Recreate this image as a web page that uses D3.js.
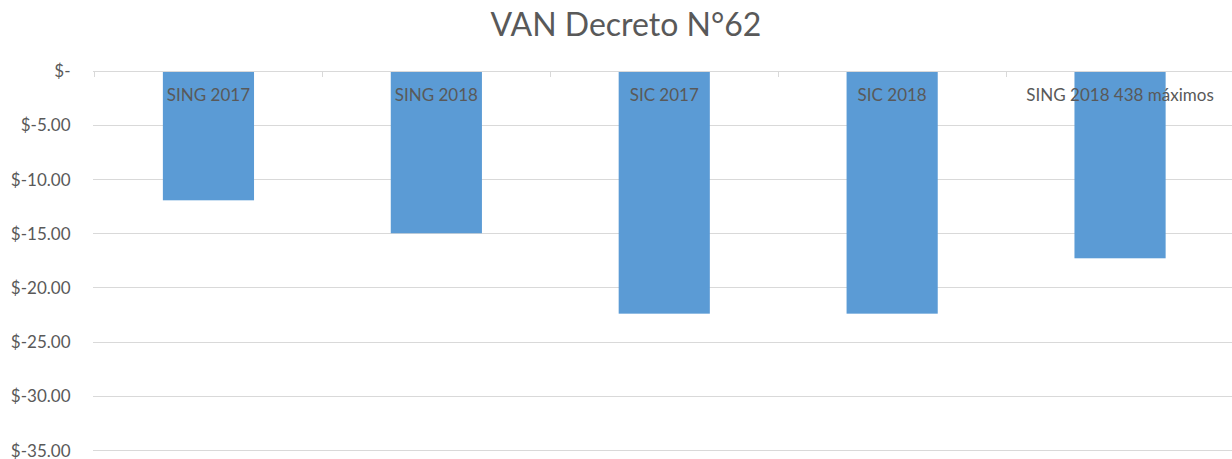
<!DOCTYPE html>
<html>
<head>
<meta charset="utf-8">
<script src="https://cdn.jsdelivr.net/npm/d3@7"></script>
<style>
  body { margin: 0; background: #fff; }
  text { font-family: Lato, "Open Sans", sans-serif; fill: #595959; }
  .grid line { stroke: #d9d9d9; stroke-width: 1; }
</style>
</head>
<body>
<script>
// data
var categories = ["SING 2017", "SING 2018", "SIC 2017", "SIC 2018", "SING 2018 438 máximos"];
var values = [-11.96, -15.0, -22.42, -22.42, -17.31];
var yTicks = [0, -5, -10, -15, -20, -25, -30, -35];
var title = "VAN Decreto N°62";

var width = 1232, height = 459;
var margin = {top: 70.7, right: -2, bottom: 9, left: 94.5};

var svg = d3.select("body").append("svg")
    .attr("width", width)
    .attr("height", height);

var x = d3.scaleBand()
    .domain(categories)
    .range([margin.left, width - margin.right])
    .paddingInner(0.6)
    .paddingOuter(0.3);

var y = d3.scaleLinear()
    .domain([-35, 0])
    .range([height - margin.bottom, margin.top]);

function fmt(v) {
    if (v === 0) return "$-";
    return "$" + d3.format(".2f")(v).replace("−", "-");
}

// horizontal gridlines
svg.append("g")
    .attr("class", "grid")
    .selectAll("line")
    .data(yTicks)
    .enter()
    .append("line")
        .attr("x1", margin.left - 1.5)
        .attr("x2", width)
        .attr("y1", function(d) { return Math.round(y(d)) + 0.5; })
        .attr("y2", function(d) { return Math.round(y(d)) + 0.5; });

// y labels
svg.append("g")
    .selectAll("text")
    .data(yTicks)
    .enter()
    .append("text")
        .attr("x", 70.5)
        .attr("y", function(d) { return y(d) + 6.5; })
        .style("text-anchor", "end")
        .style("font-size", "17px")
        .text(fmt);

// category tick marks at band edges
var step = x.step();
var edges = d3.range(categories.length + 1).map(function(i) {
    return x(categories[0]) - (step - x.bandwidth()) / 2 + i * step;
});
svg.append("g")
    .attr("class", "grid")
    .selectAll("line")
    .data(edges)
    .enter()
    .append("line")
        .attr("x1", function(d) { return Math.round(d) + 0.5; })
        .attr("x2", function(d) { return Math.round(d) + 0.5; })
        .attr("y1", Math.round(y(0)))
        .attr("y2", Math.round(y(0)) + 6);

// bars
svg.append("g")
    .selectAll("rect")
    .data(values)
    .enter()
    .append("rect")
        .attr("x", function(d, i) { return x(categories[i]); })
        .attr("width", x.bandwidth())
        .attr("y", Math.round(y(0)) + 1)
        .attr("height", function(d) { return y(d) - Math.round(y(0)) - 1; })
        .attr("fill", "#5b9bd5");

// data labels (category names, inside base)
svg.append("g")
    .selectAll("text")
    .data(categories)
    .enter()
    .append("text")
        .attr("x", function(d) { return x(d) + x.bandwidth() / 2; })
        .attr("y", y(0) + 30)
        .style("text-anchor", "middle")
        .style("font-size", "17px")
        .text(function(d) { return d; });

// title
svg.append("text")
    .attr("x", 626)
    .attr("y", 36)
    .style("text-anchor", "middle")
    .style("font-size", "32px")
    .text(title);
</script>
</body>
</html>
